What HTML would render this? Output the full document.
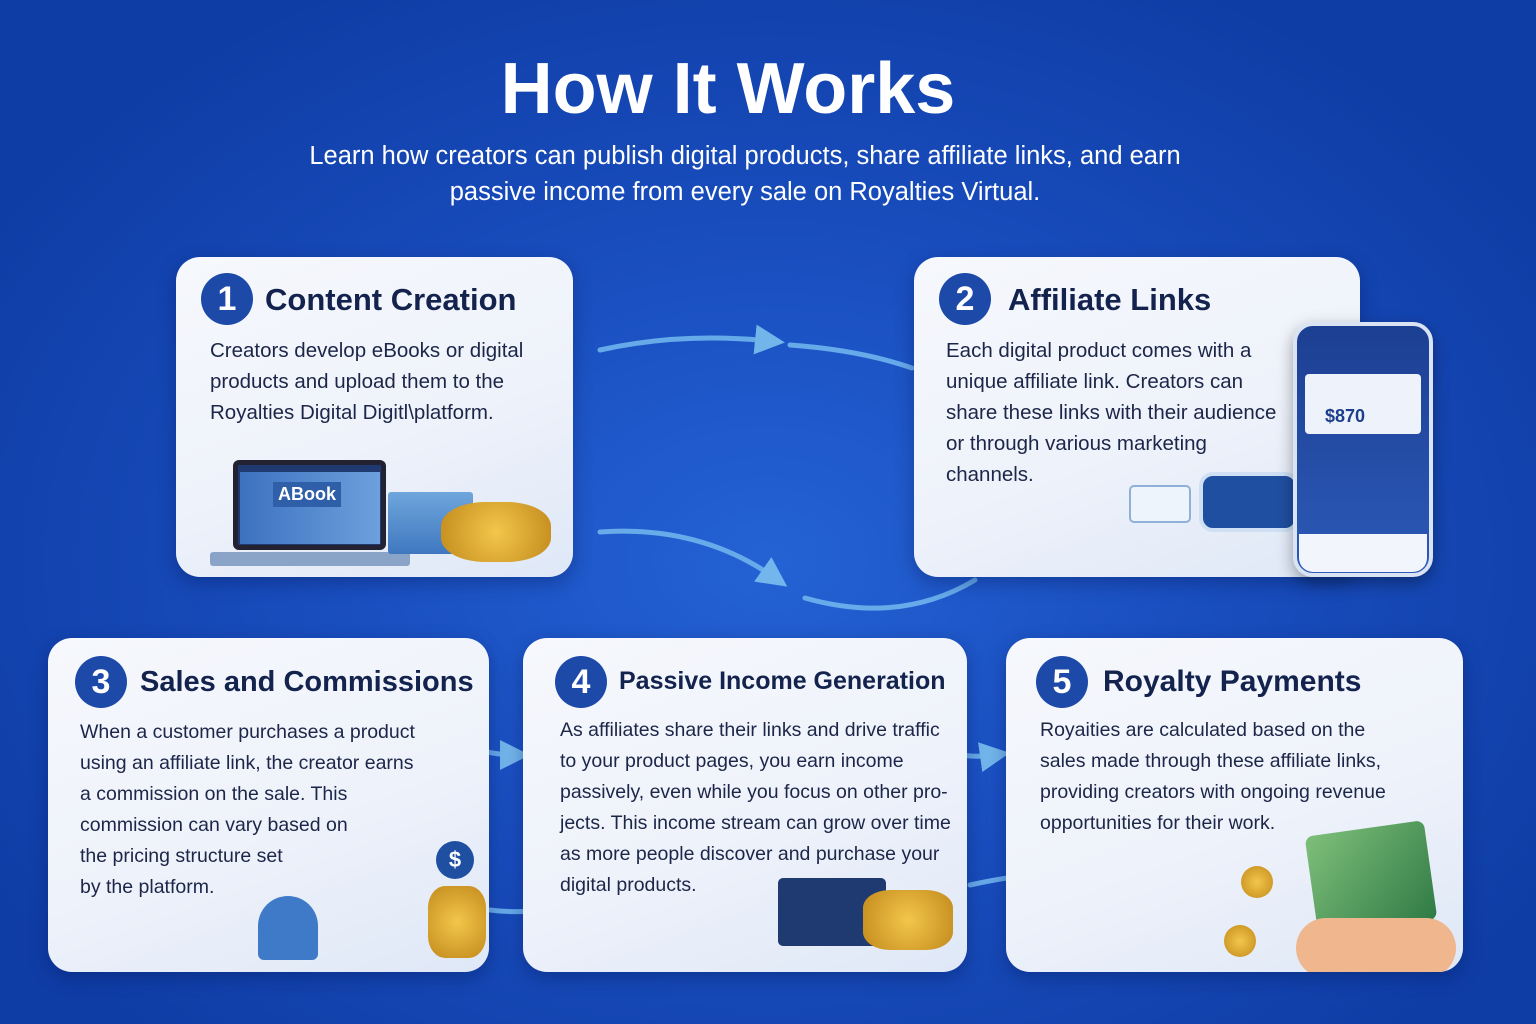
<!DOCTYPE html>
<html><head><meta charset="utf-8"><style>
*{margin:0;padding:0;box-sizing:border-box}
body{width:1536px;height:1024px;overflow:hidden;font-family:"Liberation Sans",sans-serif;
background:radial-gradient(ellipse 900px 650px at 768px 560px,#2462d4 0%,#1a4fc0 45%,#0f3da6 100%);position:relative}
.t{position:absolute;left:0;width:1456px;text-align:center;color:#fff}
.card{position:absolute;border-radius:24px;background:linear-gradient(160deg,#f6f8fd 0%,#eef2fa 55%,#dfe8f7 100%);box-shadow:0 6px 18px rgba(0,20,80,.35);overflow:hidden}
.num{position:absolute;width:52px;height:52px;border-radius:50%;background:#1d4aa8;color:#fff;font-weight:bold;font-size:34px;text-align:center;line-height:52px}
.h{position:absolute;font-weight:bold;color:#13234e;font-size:30px;white-space:nowrap}
.p{position:absolute;color:#1c2648;font-size:20px;line-height:31px;white-space:nowrap}
svg{position:absolute;left:0;top:0}
</style></head><body>
<div class="t" style="left:0;width:1456px;top:48px;font-size:72px;font-weight:bold;">How It Works</div>
<div class="t" style="left:0;width:1490px;top:138px;font-size:25.5px;line-height:36px">Learn how creators can publish digital products, share affiliate links, and earn<br>passive income from every sale on Royalties Virtual.</div>

<svg width="1536" height="1024">
<defs><marker id="a" markerWidth="6" markerHeight="6" refX="3" refY="3" orient="auto"><path d="M0,0 L6,3 L0,6 z" fill="#7cc0f0"/></marker></defs>
<g fill="none" stroke="#6fb4ee" stroke-width="5" stroke-linecap="round" opacity=".9">
<path d="M600,350 Q680,332 770,341" marker-end="url(#a)"/>
<path d="M790,345 Q860,350 912,368"/>
<path d="M600,532 Q700,525 775,578" marker-end="url(#a)"/>
<path d="M805,598 Q900,625 975,580"/>
<path d="M440,735 Q480,755 515,755" marker-end="url(#a)"/>
<path d="M930,745 Q960,760 995,755" marker-end="url(#a)"/>
<path d="M490,910 Q530,915 575,905"/>
<path d="M970,885 Q1080,860 1190,885" marker-end="url(#a)"/>
</g></svg>

<div class="card" style="left:176px;top:257px;width:397px;height:320px">
<div class="num" style="left:25px;top:16px">1</div>
<div class="h" style="left:89px;top:25px;font-size:31px">Content Creation</div>
<div class="p" style="left:34px;top:78px;font-size:20.5px">Creators develop eBooks or digital<br>products and upload them to the<br>Royalties Digital Digitl\platform.</div>
<div style="position:absolute;left:57px;top:203px;width:153px;height:90px;background:#1e3a70;border-radius:6px;border:5px solid #223"></div>
<div style="position:absolute;left:64px;top:215px;width:140px;height:72px;background:linear-gradient(90deg,#3d72c0,#6da0dc)"></div>
<div style="position:absolute;left:97px;top:225px;color:#fff;font-weight:bold;font-size:18px;background:#2f5fa8;padding:2px 5px">ABook</div>
<div style="position:absolute;left:34px;top:295px;width:200px;height:14px;background:#8aa4c8;border-radius:3px"></div>
<div style="position:absolute;left:212px;top:235px;width:85px;height:62px;background:linear-gradient(#6fa6dc,#3f78c0);border-radius:3px"></div>
<div style="position:absolute;left:265px;top:245px;width:110px;height:60px;background:radial-gradient(circle,#f3c64a,#c28a1c);border-radius:40%"></div>
</div>

<div class="card" style="left:914px;top:257px;width:446px;height:320px">
<div class="num" style="left:25px;top:16px">2</div>
<div class="h" style="left:94px;top:25px;font-size:31px">Affiliate Links</div>
<div class="p" style="left:32px;top:78px;font-size:20.5px">Each digital product comes with a<br>unique affiliate link. Creators can<br>share these links with their audience<br>or through various marketing<br>channels.</div>
<div style="position:absolute;left:285px;top:215px;width:100px;height:60px;background:#1f4fa0;border-radius:14px;border:4px solid #cfe0f5"></div>
<div style="position:absolute;left:215px;top:228px;width:62px;height:38px;background:#eef4fb;border:2px solid #8fb0d8;border-radius:5px"></div>
</div>
<div style="position:absolute;left:1293px;top:322px;width:140px;height:255px;background:linear-gradient(#1c3f92,#2c5ab8);border-radius:20px;border:4px solid #d9e3f3;box-shadow:0 6px 16px rgba(0,0,0,.35)">
<div style="position:absolute;left:8px;top:48px;width:116px;height:60px;background:#eef3fb;border-radius:4px"></div>
<div style="position:absolute;left:28px;top:80px;color:#1d3e8a;font-weight:bold;font-size:18px">$870</div>
<div style="position:absolute;left:2px;top:208px;width:128px;height:38px;background:#f2f5fb;border-radius:0 0 14px 14px"></div>
</div>

<div class="card" style="left:48px;top:638px;width:441px;height:334px">
<div class="num" style="left:27px;top:18px">3</div>
<div class="h" style="left:92px;top:28px;font-size:29px">Sales and Commissions</div>
<div class="p" style="left:32px;top:79px;font-size:19.5px">When a customer purchases a product<br>using an affiliate link, the creator earns<br>a commission on the sale. This<br>commission can vary based on<br>the pricing structure set<br>by the platform.</div>
<div style="position:absolute;left:210px;top:258px;width:60px;height:64px;background:#3f7ac8;border-radius:30px 30px 6px 6px"></div>
<div style="position:absolute;left:380px;top:248px;width:58px;height:72px;background:radial-gradient(circle,#f3c64a,#c28a1c);border-radius:30%"></div>
<div style="position:absolute;left:388px;top:203px;width:38px;height:38px;border-radius:50%;background:#1f4fa0;color:#fff;font-weight:bold;font-size:22px;text-align:center;line-height:38px">$</div>
</div>

<div class="card" style="left:523px;top:638px;width:444px;height:334px">
<div class="num" style="left:32px;top:18px">4</div>
<div class="h" style="left:96px;top:29px;font-size:25px">Passive Income Generation</div>
<div class="p" style="left:37px;top:77px;font-size:19.5px">As affiliates share their links and drive traffic<br>to your product pages, you earn income<br>passively, even while you focus on other pro-<br>jects. This income stream can grow over time<br>as more people discover and purchase your<br>digital products.</div>
<div style="position:absolute;left:255px;top:240px;width:108px;height:68px;background:#1e3a70;border-radius:5px"></div>
<div style="position:absolute;left:340px;top:252px;width:90px;height:60px;background:radial-gradient(circle,#f3c64a,#c28a1c);border-radius:30%"></div>
</div>

<div class="card" style="left:1006px;top:638px;width:457px;height:334px">
<div class="num" style="left:30px;top:18px">5</div>
<div class="h" style="left:97px;top:27px;font-size:30px">Royalty Payments</div>
<div class="p" style="left:34px;top:77px;font-size:19.5px">Royaities are calculated based on the<br>sales made through these affiliate links,<br>providing creators with ongoing revenue<br>opportunities for their work.</div>
<div style="position:absolute;left:305px;top:190px;width:120px;height:100px;background:linear-gradient(135deg,#7fbf7a,#2f7a45);border-radius:8px;transform:rotate(-8deg)"></div>
<div style="position:absolute;left:290px;top:280px;width:160px;height:60px;background:#f0b78f;border-radius:30px"></div>
<div style="position:absolute;left:235px;top:228px;width:32px;height:32px;border-radius:50%;background:radial-gradient(circle,#f3c64a,#c28a1c)"></div>
<div style="position:absolute;left:218px;top:287px;width:32px;height:32px;border-radius:50%;background:radial-gradient(circle,#f3c64a,#c28a1c)"></div>
</div>
</body></html>
